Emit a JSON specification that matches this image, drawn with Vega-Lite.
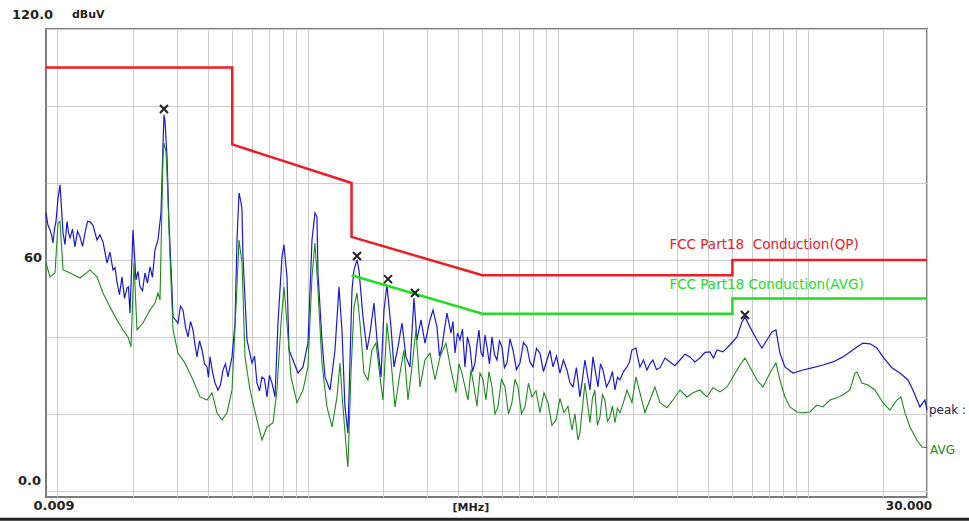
{
 "$schema": "https://vega.github.io/schema/vega-lite/v6.json",
 "width": 881, "height": 468,
 "autosize": {"type": "none"},
 "padding": {"left": 46, "top": 29, "right": 42, "bottom": 25},
 "background": "white",
 "config": {
  "view": {"stroke": "#7a7a7a", "strokeWidth": 2},
  "font": "DejaVu Sans",
  "axis": {"grid": true, "gridColor": "#cdcdcd", "gridWidth": 1, "labels": false, "ticks": false, "domain": false, "title": null}
 },
 "datasets": {
  "peak": [{"f":0.009,"v":72.2},{"f":0.009167,"v":69},{"f":0.009338,"v":67.8},{"f":0.009468,"v":66.5},{"f":0.009599,"v":64.4},{"f":0.009733,"v":68},{"f":0.009868,"v":70},{"f":0.010052,"v":76},{"f":0.01024,"v":79.5},{"f":0.01053,"v":67},{"f":0.01072,"v":64},{"f":0.01092,"v":70},{"f":0.01107,"v":67},{"f":0.01123,"v":65.7},{"f":0.01149,"v":68},{"f":0.01175,"v":63.4},{"f":0.01203,"v":67.5},{"f":0.01231,"v":66},{"f":0.0126,"v":63.5},{"f":0.01289,"v":67},{"f":0.01319,"v":70},{"f":0.0135,"v":69.9},{"f":0.01387,"v":69},{"f":0.01439,"v":65.2},{"f":0.01479,"v":66.5},{"f":0.01521,"v":64.7},{"f":0.01549,"v":62},{"f":0.01578,"v":59.2},{"f":0.01622,"v":62},{"f":0.01668,"v":57.4},{"f":0.01699,"v":58},{"f":0.0173,"v":54.3},{"f":0.0177,"v":51},{"f":0.01812,"v":55.6},{"f":0.01854,"v":50},{"f":0.01897,"v":52.7},{"f":0.01923,"v":53},{"f":0.0195,"v":46.2},{"f":0.02005,"v":67.8},{"f":0.02061,"v":54.8},{"f":0.021,"v":57},{"f":0.02139,"v":53},{"f":0.02188,"v":52},{"f":0.02239,"v":56.6},{"f":0.02291,"v":54},{"f":0.02345,"v":58.2},{"f":0.02399,"v":55.5},{"f":0.02455,"v":62.6},{"f":0.02524,"v":65.2},{"f":0.02595,"v":72.2},{"f":0.02643,"v":90},{"f":0.02667,"v":97.7},{"f":0.02692,"v":96},{"f":0.02742,"v":86.8},{"f":0.02793,"v":69.6},{"f":0.02871,"v":52.2},{"f":0.02898,"v":45.2},{"f":0.03034,"v":43.6},{"f":0.03105,"v":48},{"f":0.03177,"v":47},{"f":0.03251,"v":42.5},{"f":0.03327,"v":40},{"f":0.03405,"v":44},{"f":0.03484,"v":41.8},{"f":0.03548,"v":38},{"f":0.03614,"v":34.8},{"f":0.03699,"v":39},{"f":0.03785,"v":36.6},{"f":0.03873,"v":33},{"f":0.03963,"v":32.2},{"f":0.04018,"v":29.5},{"f":0.04074,"v":34.8},{"f":0.04169,"v":31},{"f":0.04266,"v":28},{"f":0.04385,"v":26.2},{"f":0.04487,"v":27.5},{"f":0.04592,"v":31.4},{"f":0.04699,"v":33},{"f":0.04808,"v":29.6},{"f":0.04989,"v":34.8},{"f":0.05128,"v":43.6},{"f":0.05224,"v":65.2},{"f":0.05321,"v":77.4},{"f":0.0542,"v":75},{"f":0.0547,"v":73},{"f":0.0552,"v":60.8},{"f":0.05727,"v":39.2},{"f":0.05997,"v":33.2},{"f":0.06137,"v":35},{"f":0.0628,"v":28},{"f":0.06427,"v":26},{"f":0.06576,"v":29.6},{"f":0.06729,"v":29},{"f":0.06885,"v":24.4},{"f":0.07046,"v":30},{"f":0.0721,"v":28},{"f":0.07412,"v":24.4},{"f":0.07619,"v":43.6},{"f":0.07905,"v":60.8},{"f":0.08052,"v":63.9},{"f":0.08277,"v":55.6},{"f":0.08431,"v":36.6},{"f":0.08748,"v":34},{"f":0.0916,"v":30.6},{"f":0.09591,"v":32.2},{"f":0.1004,"v":38.4},{"f":0.1042,"v":65.2},{"f":0.1071,"v":72.2},{"f":0.1091,"v":71.2},{"f":0.1101,"v":56.6},{"f":0.1142,"v":39.2},{"f":0.1174,"v":29.6},{"f":0.123,"v":26.2},{"f":0.1288,"v":36.6},{"f":0.1336,"v":53},{"f":0.1373,"v":41.8},{"f":0.1412,"v":21.8},{"f":0.1451,"v":15},{"f":0.1506,"v":52.2},{"f":0.1534,"v":57.4},{"f":0.1577,"v":60},{"f":0.1606,"v":57.4},{"f":0.1666,"v":45.2},{"f":0.1729,"v":36.6},{"f":0.1777,"v":41},{"f":0.1844,"v":48.8},{"f":0.1896,"v":39.2},{"f":0.1967,"v":29.6},{"f":0.2022,"v":47},{"f":0.2078,"v":53.5},{"f":0.2156,"v":42.6},{"f":0.2217,"v":32.2},{"f":0.23,"v":37.4},{"f":0.2386,"v":43.6},{"f":0.2476,"v":34.8},{"f":0.2568,"v":32.2},{"f":0.2665,"v":50.1},{"f":0.2739,"v":39.2},{"f":0.2842,"v":44.4},{"f":0.2949,"v":38.4},{"f":0.3088,"v":44.4},{"f":0.3174,"v":47},{"f":0.3293,"v":42.6},{"f":0.337,"v":35},{"f":0.3449,"v":37.4},{"f":0.353,"v":42},{"f":0.3611,"v":46.2},{"f":0.3746,"v":41},{"f":0.3816,"v":44},{"f":0.3887,"v":35.8},{"f":0.398,"v":41},{"f":0.407,"v":39.2},{"f":0.4165,"v":42},{"f":0.4262,"v":32.2},{"f":0.4361,"v":40},{"f":0.4463,"v":37.4},{"f":0.4567,"v":31},{"f":0.4673,"v":33.2},{"f":0.476,"v":38},{"f":0.4848,"v":41.8},{"f":0.4938,"v":36},{"f":0.503,"v":34.8},{"f":0.5124,"v":40.5},{"f":0.5219,"v":37.4},{"f":0.534,"v":33},{"f":0.5465,"v":40},{"f":0.5592,"v":35.5},{"f":0.5722,"v":34},{"f":0.5855,"v":39},{"f":0.5992,"v":37.4},{"f":0.6131,"v":32},{"f":0.6274,"v":33.2},{"f":0.645,"v":39.5},{"f":0.663,"v":36.6},{"f":0.6847,"v":31.5},{"f":0.7072,"v":33.2},{"f":0.7303,"v":38.5},{"f":0.7542,"v":37.4},{"f":0.7754,"v":33.5},{"f":0.7971,"v":32.2},{"f":0.8232,"v":37},{"f":0.8501,"v":35.8},{"f":0.878,"v":31},{"f":0.9067,"v":34},{"f":0.9321,"v":36.5},{"f":0.9582,"v":32.2},{"f":0.9896,"v":35},{"f":1.022,"v":30.6},{"f":1.055,"v":34},{"f":1.09,"v":31.4},{"f":1.121,"v":28},{"f":1.152,"v":27},{"f":1.189,"v":32},{"f":1.228,"v":24.4},{"f":1.257,"v":29},{"f":1.286,"v":34},{"f":1.347,"v":26.2},{"f":1.385,"v":34.8},{"f":1.45,"v":27},{"f":1.484,"v":33},{"f":1.518,"v":31.4},{"f":1.568,"v":27},{"f":1.619,"v":28.8},{"f":1.657,"v":31},{"f":1.696,"v":26.2},{"f":1.735,"v":29.5},{"f":1.775,"v":28.8},{"f":1.834,"v":31},{"f":1.894,"v":32.2},{"f":1.938,"v":33.5},{"f":1.983,"v":36.6},{"f":2.057,"v":37.1},{"f":2.095,"v":34.5},{"f":2.134,"v":32.2},{"f":2.204,"v":34},{"f":2.277,"v":31.4},{"f":2.341,"v":33},{"f":2.406,"v":34},{"f":2.485,"v":31.5},{"f":2.566,"v":32},{"f":2.687,"v":34.5},{"f":2.813,"v":33.5},{"f":2.946,"v":32.5},{"f":3.085,"v":34},{"f":3.23,"v":35.5},{"f":3.382,"v":34.8},{"f":3.541,"v":33.5},{"f":3.708,"v":34.5},{"f":3.883,"v":36},{"f":4.066,"v":36.1},{"f":4.2,"v":34.5},{"f":4.337,"v":36.6},{"f":4.583,"v":36.1},{"f":4.888,"v":37.9},{"f":5.213,"v":40},{"f":5.459,"v":43.9},{"f":5.612,"v":45.2},{"f":5.876,"v":42.6},{"f":6.268,"v":39.2},{"f":6.563,"v":37.1},{"f":6.872,"v":39.2},{"f":7.195,"v":41.3},{"f":7.465,"v":41.8},{"f":7.745,"v":35.8},{"f":8.11,"v":32.2},{"f":8.73,"v":30.6},{"f":9.573,"v":31.4},{"f":10.5,"v":32},{"f":11.51,"v":32.7},{"f":12.62,"v":33.5},{"f":13.83,"v":34.8},{"f":14.76,"v":36.1},{"f":15.74,"v":37.4},{"f":16.63,"v":38.4},{"f":17.74,"v":38.2},{"f":18.92,"v":37.1},{"f":19.99,"v":34.8},{"f":21.72,"v":32},{"f":23.38,"v":30.6},{"f":25.17,"v":28.8},{"f":26.35,"v":26.2},{"f":28.11,"v":21.8},{"f":29.43,"v":23.6},{"f":30,"v":21}],
  "avg": [{"f":0.009,"v":59.2},{"f":0.009338,"v":55.6},{"f":0.009778,"v":56.6},{"f":0.010052,"v":69.6},{"f":0.01024,"v":70},{"f":0.01033,"v":66},{"f":0.01053,"v":57.4},{"f":0.01123,"v":56.6},{"f":0.01231,"v":55.3},{"f":0.0135,"v":57.4},{"f":0.01439,"v":55.6},{"f":0.01521,"v":51.4},{"f":0.01622,"v":47.8},{"f":0.0173,"v":44.4},{"f":0.01829,"v":41.8},{"f":0.01915,"v":40},{"f":0.01968,"v":37.4},{"f":0.02024,"v":59.2},{"f":0.0208,"v":41.8},{"f":0.02198,"v":43.6},{"f":0.02345,"v":47},{"f":0.02455,"v":48.8},{"f":0.02524,"v":51.4},{"f":0.02571,"v":49.6},{"f":0.02643,"v":86.8},{"f":0.02667,"v":90.4},{"f":0.02717,"v":88},{"f":0.02742,"v":82.6},{"f":0.02819,"v":60.8},{"f":0.02898,"v":41.8},{"f":0.03034,"v":35.8},{"f":0.03236,"v":33.2},{"f":0.03484,"v":28.8},{"f":0.03716,"v":24.4},{"f":0.03963,"v":23.6},{"f":0.0415,"v":25.5},{"f":0.04345,"v":20.3},{"f":0.0455,"v":18.4},{"f":0.04764,"v":20.3},{"f":0.04989,"v":26.2},{"f":0.05176,"v":47.8},{"f":0.05321,"v":65.2},{"f":0.0547,"v":59.2},{"f":0.05623,"v":34.8},{"f":0.05888,"v":26.2},{"f":0.0628,"v":18.4},{"f":0.06576,"v":13.2},{"f":0.06885,"v":16.6},{"f":0.07276,"v":17.7},{"f":0.07549,"v":26.2},{"f":0.07833,"v":43.6},{"f":0.08052,"v":53},{"f":0.08277,"v":43.6},{"f":0.08588,"v":29.6},{"f":0.09076,"v":22.9},{"f":0.09591,"v":26.2},{"f":0.1004,"v":32.2},{"f":0.1042,"v":55.6},{"f":0.1071,"v":64.4},{"f":0.1101,"v":52.2},{"f":0.1142,"v":33.2},{"f":0.1196,"v":21.8},{"f":0.1253,"v":16.6},{"f":0.1312,"v":24.4},{"f":0.1348,"v":33.2},{"f":0.1386,"v":21.8},{"f":0.1438,"v":8.8},{"f":0.1451,"v":6.2},{"f":0.1492,"v":30.6},{"f":0.1534,"v":47.8},{"f":0.1577,"v":51.4},{"f":0.1621,"v":43.6},{"f":0.1682,"v":30.6},{"f":0.1745,"v":28.8},{"f":0.181,"v":36.6},{"f":0.1878,"v":38.4},{"f":0.1949,"v":29.6},{"f":0.2003,"v":23.6},{"f":0.2078,"v":43.6},{"f":0.2156,"v":34},{"f":0.2237,"v":21.8},{"f":0.2343,"v":30.6},{"f":0.243,"v":36.6},{"f":0.2522,"v":23.6},{"f":0.2616,"v":32.2},{"f":0.2714,"v":41.8},{"f":0.2816,"v":27},{"f":0.2949,"v":34},{"f":0.3088,"v":35.8},{"f":0.3233,"v":28.8},{"f":0.3386,"v":34.8},{"f":0.3578,"v":38.4},{"f":0.3746,"v":31.4},{"f":0.3923,"v":25.5},{"f":0.4033,"v":33},{"f":0.4146,"v":30.6},{"f":0.4262,"v":27},{"f":0.4381,"v":23.6},{"f":0.4504,"v":31.5},{"f":0.463,"v":27},{"f":0.476,"v":22},{"f":0.4893,"v":30.6},{"f":0.503,"v":29},{"f":0.5171,"v":23.6},{"f":0.5316,"v":31},{"f":0.5465,"v":27},{"f":0.5618,"v":20},{"f":0.5775,"v":21.8},{"f":0.5964,"v":29},{"f":0.6159,"v":27},{"f":0.6361,"v":20},{"f":0.6569,"v":22.9},{"f":0.6753,"v":29},{"f":0.6943,"v":27},{"f":0.717,"v":20},{"f":0.7405,"v":21.8},{"f":0.7647,"v":28},{"f":0.7898,"v":24.4},{"f":0.8194,"v":26},{"f":0.8501,"v":20.3},{"f":0.882,"v":25.5},{"f":0.9151,"v":22.9},{"f":0.9494,"v":17},{"f":0.985,"v":18.4},{"f":1.022,"v":24},{"f":1.06,"v":20.3},{"f":1.1,"v":22},{"f":1.141,"v":15.8},{"f":1.173,"v":20},{"f":1.206,"v":13.2},{"f":1.228,"v":15},{"f":1.286,"v":28},{"f":1.347,"v":17.7},{"f":1.378,"v":24},{"f":1.41,"v":26.2},{"f":1.443,"v":17},{"f":1.477,"v":19.2},{"f":1.511,"v":25},{"f":1.546,"v":23.6},{"f":1.582,"v":18},{"f":1.619,"v":19.2},{"f":1.657,"v":22},{"f":1.696,"v":17.7},{"f":1.735,"v":21.5},{"f":1.775,"v":20.3},{"f":1.834,"v":23},{"f":1.894,"v":26.2},{"f":1.983,"v":22.9},{"f":2.057,"v":29.6},{"f":2.134,"v":25.5},{"f":2.235,"v":20.3},{"f":2.34,"v":23.6},{"f":2.45,"v":27},{"f":2.566,"v":22.9},{"f":2.737,"v":21.6},{"f":2.892,"v":23.6},{"f":3.085,"v":26.2},{"f":3.29,"v":24.4},{"f":3.477,"v":25.5},{"f":3.708,"v":26.2},{"f":3.955,"v":24.4},{"f":4.18,"v":26.8},{"f":4.458,"v":25.7},{"f":4.755,"v":27},{"f":5.025,"v":29.6},{"f":5.359,"v":32.7},{"f":5.612,"v":34.5},{"f":5.876,"v":32.2},{"f":6.268,"v":28.8},{"f":6.623,"v":27},{"f":7.064,"v":30.6},{"f":7.465,"v":33.2},{"f":7.745,"v":28.8},{"f":8.11,"v":24.4},{"f":8.493,"v":21.8},{"f":9.058,"v":20.5},{"f":9.573,"v":20.3},{"f":10.21,"v":20.5},{"f":10.89,"v":22.3},{"f":11.51,"v":21.8},{"f":12.27,"v":23.6},{"f":13.09,"v":24.2},{"f":13.83,"v":24.9},{"f":14.76,"v":26.2},{"f":15.45,"v":30.6},{"f":15.74,"v":30.9},{"f":16.48,"v":28},{"f":17.41,"v":27.5},{"f":18.57,"v":26.2},{"f":19.99,"v":22.9},{"f":21.33,"v":21},{"f":22.74,"v":23.6},{"f":23.6,"v":24.4},{"f":24.48,"v":20.3},{"f":25.64,"v":16.6},{"f":27.34,"v":13.2},{"f":28.63,"v":11.4},{"f":30,"v":11.2}],
  "qp": [{"f":0.009,"v":110,"o":1},{"f":0.05,"v":110,"o":2},{"f":0.05,"v":90,"o":3},{"f":0.15,"v":80,"o":4},{"f":0.15,"v":66,"o":5},{"f":0.5,"v":56,"o":6},{"f":5,"v":56,"o":7},{"f":5,"v":60,"o":8},{"f":30,"v":60,"o":9}],
  "avglim": [{"f":0.15,"v":56,"o":1},{"f":0.5,"v":46,"o":2},{"f":5,"v":46,"o":3},{"f":5,"v":50,"o":4},{"f":30,"v":50,"o":5}],
  "marks": [{"f":0.02667,"v":99.2},{"f":0.1577,"v":61},{"f":0.2098,"v":55},{"f":0.2689,"v":51.4},{"f":5.612,"v":45.7}],
  "base": [{"f1":0.005,"f2":50,"v":-7.4}]
 },
 "layer": [
  {
   "data": {"name": "peak"},
   "mark": {"type": "line", "color": "#1a1ad0", "strokeWidth": 1.2},
   "encoding": {
    "x": {"field": "f", "type": "quantitative",
          "scale": {"type": "log", "domain": [0.009, 30], "nice": false, "zero": false},
          "axis": {"values": [0.01,0.02,0.03,0.04,0.05,0.06,0.07,0.08,0.09,0.1,0.2,0.3,0.4,0.5,0.6,0.7,0.8,0.9,1,2,3,4,5,6,7,8,9,10,20,30]}},
    "y": {"field": "v", "type": "quantitative",
          "scale": {"domain": [-1.6, 120], "nice": false, "zero": false},
          "axis": {"values": [0,10,20,30,40,50,60,70,80,90,100,110,120]}}
   }
  },
  {
   "data": {"name": "avg"},
   "mark": {"type": "line", "color": "#1e8a1e", "strokeWidth": 1.1},
   "encoding": {
    "x": {"field": "f", "type": "quantitative"},
    "y": {"field": "v", "type": "quantitative"}
   }
  },
  {
   "data": {"name": "qp"},
   "mark": {"type": "line", "color": "#ee1c24", "strokeWidth": 2.5},
   "encoding": {
    "x": {"field": "f", "type": "quantitative"},
    "y": {"field": "v", "type": "quantitative"},
    "order": {"field": "o"}
   }
  },
  {
   "data": {"name": "avglim"},
   "mark": {"type": "line", "color": "#22dd22", "strokeWidth": 2.5},
   "encoding": {
    "x": {"field": "f", "type": "quantitative"},
    "y": {"field": "v", "type": "quantitative"},
    "order": {"field": "o"}
   }
  },
  {
   "data": {"name": "marks"},
   "mark": {"type": "point", "shape": "M-1,-1L1,1M1,-1L-1,1", "size": 64, "filled": false, "stroke": "#222222", "strokeWidth": 2, "opacity": 1},
   "encoding": {
    "x": {"field": "f", "type": "quantitative"},
    "y": {"field": "v", "type": "quantitative"}
   }
  },
  {
   "data": {"values": [{"f": 2.8, "v": 60, "t": "FCC Part18\u00a0 Conduction(QP)"}]},
   "mark": {"type": "text", "align": "left", "baseline": "middle", "dy": -15, "fontSize": 13.5, "color": "#e8202a"},
   "encoding": {"x": {"field": "f", "type": "quantitative"}, "y": {"field": "v", "type": "quantitative"}, "text": {"field": "t"}}
  },
  {
   "data": {"values": [{"f": 2.8, "v": 50, "t": "FCC Part18 Conduction(AVG)"}]},
   "mark": {"type": "text", "align": "left", "baseline": "middle", "dy": -13, "fontSize": 13.5, "color": "#22dd22"},
   "encoding": {"x": {"field": "f", "type": "quantitative"}, "y": {"field": "v", "type": "quantitative"}, "text": {"field": "t"}}
  },
  {
   "data": {"values": [{"f": 30, "v": 21, "t": "peak :"}]},
   "mark": {"type": "text", "align": "left", "baseline": "middle", "dx": 2, "fontSize": 12, "color": "#222244"},
   "encoding": {"x": {"field": "f", "type": "quantitative"}, "y": {"field": "v", "type": "quantitative"}, "text": {"field": "t"}}
  },
  {
   "data": {"values": [{"f": 30, "v": 11, "t": "AVG"}]},
   "mark": {"type": "text", "align": "left", "baseline": "middle", "dx": 3, "dy": 1, "fontSize": 12, "color": "#1e8a1e"},
   "encoding": {"x": {"field": "f", "type": "quantitative"}, "y": {"field": "v", "type": "quantitative"}, "text": {"field": "t"}}
  },
  {
   "data": {"values": [{"f": 0.009, "v": 120, "t": "120.0"}]},
   "mark": {"type": "text", "align": "left", "baseline": "middle", "dx": -34, "dy": -14, "fontSize": 13, "fontWeight": "bold", "color": "#222222"},
   "encoding": {"x": {"field": "f", "type": "quantitative"}, "y": {"field": "v", "type": "quantitative"}, "text": {"field": "t"}}
  },
  {
   "data": {"values": [{"f": 0.009, "v": 120, "t": "dBuV"}]},
   "mark": {"type": "text", "align": "left", "baseline": "middle", "dx": 26, "dy": -14, "fontSize": 11, "fontWeight": "bold", "color": "#222222"},
   "encoding": {"x": {"field": "f", "type": "quantitative"}, "y": {"field": "v", "type": "quantitative"}, "text": {"field": "t"}}
  },
  {
   "data": {"values": [{"f": 0.009, "v": 60, "t": "60"}]},
   "mark": {"type": "text", "align": "right", "baseline": "middle", "dx": -4, "dy": -2, "fontSize": 13, "fontWeight": "bold", "color": "#222222"},
   "encoding": {"x": {"field": "f", "type": "quantitative"}, "y": {"field": "v", "type": "quantitative"}, "text": {"field": "t"}}
  },
  {
   "data": {"values": [{"f": 0.009, "v": 0, "t": "0.0"}]},
   "mark": {"type": "text", "align": "right", "baseline": "middle", "dx": -5, "dy": -10, "fontSize": 13, "fontWeight": "bold", "color": "#222222"},
   "encoding": {"x": {"field": "f", "type": "quantitative"}, "y": {"field": "v", "type": "quantitative"}, "text": {"field": "t"}}
  },
  {
   "data": {"values": [{"f": 0.009, "v": -1.6, "t": "0.009"}]},
   "mark": {"type": "text", "align": "center", "baseline": "middle", "dx": 8, "dy": 9, "fontSize": 13, "fontWeight": "bold", "color": "#222222"},
   "encoding": {"x": {"field": "f", "type": "quantitative"}, "y": {"field": "v", "type": "quantitative"}, "text": {"field": "t"}}
  },
  {
   "data": {"values": [{"f": 0.45, "v": -1.6, "t": "[MHz]"}]},
   "mark": {"type": "text", "align": "center", "baseline": "middle", "dy": 11, "fontSize": 11, "fontWeight": "bold", "color": "#222222"},
   "encoding": {"x": {"field": "f", "type": "quantitative"}, "y": {"field": "v", "type": "quantitative"}, "text": {"field": "t"}}
  },
  {
   "data": {"values": [{"f": 30, "v": -1.6, "t": "30.000"}]},
   "mark": {"type": "text", "align": "center", "baseline": "middle", "dx": -18, "dy": 9, "fontSize": 12, "fontWeight": "bold", "color": "#222222"},
   "encoding": {"x": {"field": "f", "type": "quantitative"}, "y": {"field": "v", "type": "quantitative"}, "text": {"field": "t"}}
  },
  {
   "data": {"name": "base"},
   "mark": {"type": "rule", "color": "#222222", "strokeWidth": 3},
   "encoding": {"x": {"field": "f1", "type": "quantitative"}, "x2": {"field": "f2"}, "y": {"field": "v", "type": "quantitative"}}
  }
 ]
}
